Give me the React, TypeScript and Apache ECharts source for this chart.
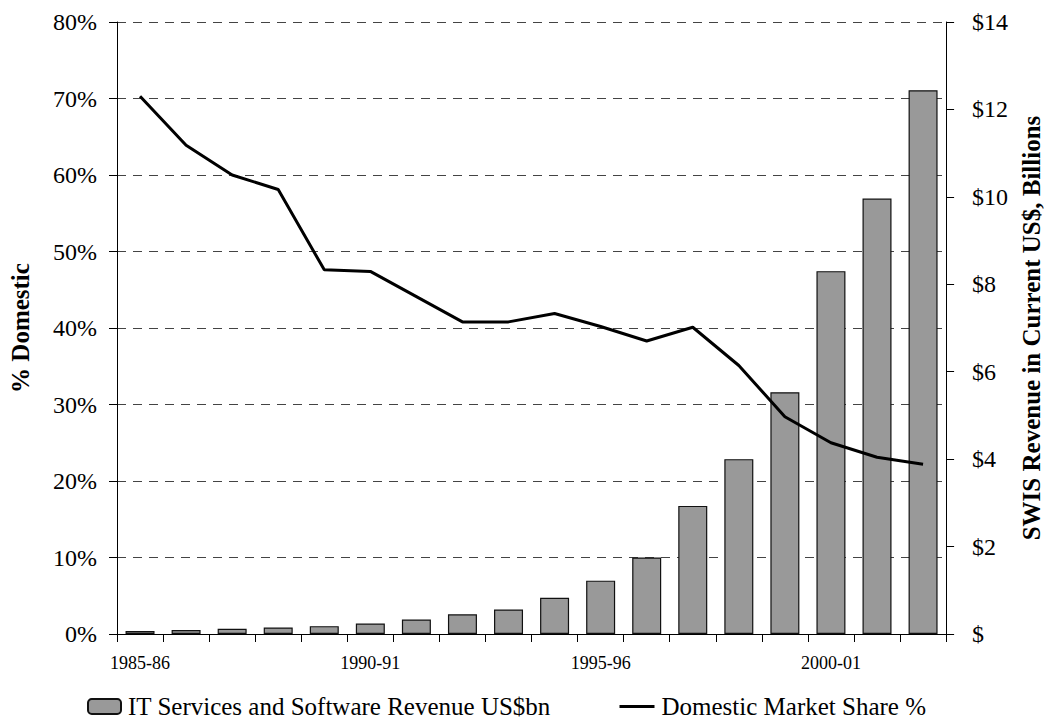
import React, { useEffect, useRef } from "react";
import * as echarts from "echarts";

const categories = [
  "1985-86", "1986-87", "1987-88", "1988-89", "1989-90", "1990-91",
  "1991-92", "1992-93", "1993-94", "1994-95", "1995-96", "1996-97",
  "1997-98", "1998-99", "1999-00", "2000-01", "2001-02", "2002-03",
];
// IT Services and Software Revenue, US$ billions (right axis)
const revenue = [
  0.07, 0.09, 0.12, 0.15, 0.18, 0.24, 0.33, 0.45, 0.56, 0.83, 1.22, 1.75,
  2.93, 4.0, 5.53, 8.3, 9.96, 12.44,
];
// Domestic market share, % (left axis)
const domesticShare = [
  70.3, 63.9, 60.0, 58.1, 47.6, 47.4, 44.1, 40.8, 40.8, 41.9, 40.2, 38.3,
  40.1, 35.1, 28.4, 25.0, 23.1, 22.2,
];
const leftTicks = { min: 0, max: 80, interval: 10 };
const rightTicks = { min: 0, max: 14, interval: 2 };

const barName = "IT Services and Software Revenue US$bn";
const lineName = "Domestic Market Share %";
const FONT = "'Liberation Serif', 'Times New Roman', serif";

export default function App() {
  const ref = useRef<HTMLDivElement>(null);
  useEffect(() => {
    if (!ref.current) return;
    const chart = echarts.init(ref.current, undefined, { renderer: "svg" });
    chart.setOption({
      animation: false,
      backgroundColor: "#ffffff",
      textStyle: { fontFamily: FONT, color: "#000" },
      grid: { left: 113, right: 97, top: 22, bottom: 86, containLabel: false },
      legend: [
        {
          data: [barName],
          left: 87,
          top: 694,
          padding: 0,
          itemWidth: 33,
          itemHeight: 15,
          itemGap: 10,
          textStyle: { fontFamily: FONT, fontSize: 25, color: "#000", padding: [0, 0, 0, 2] },
        },
        {
          data: [lineName],
          left: 618,
          top: 694,
          padding: 0,
          itemWidth: 35,
          itemHeight: 15,
          lineStyle: { width: 3 },
          itemStyle: { opacity: 0 },
          textStyle: { fontFamily: FONT, fontSize: 25, color: "#000", padding: [0, 0, 0, 2] },
        },
      ],
      xAxis: {
        type: "category",
        data: categories,
        boundaryGap: true,
        axisLine: { lineStyle: { color: "#000", width: 1 } },
        axisTick: { show: true, interval: 0, length: 8, lineStyle: { color: "#000" } },
        axisLabel: {
          interval: 4,
          margin: 20,
          fontFamily: FONT,
          fontSize: 18,
          color: "#000",
        },
        splitLine: { show: false },
      },
      yAxis: [
        {
          type: "value",
          min: leftTicks.min,
          max: leftTicks.max,
          interval: leftTicks.interval,
          name: "% Domestic",
          nameLocation: "middle",
          nameRotate: 90,
          nameGap: 84,
          nameTextStyle: { fontFamily: FONT, fontSize: 25, fontWeight: "bold", color: "#000" },
          axisLine: { show: true, lineStyle: { color: "#000", width: 1 } },
          axisTick: { show: true, length: 8, lineStyle: { color: "#000" } },
          axisLabel: {
            formatter: "{value}%",
            margin: 20,
            fontFamily: FONT,
            fontSize: 24,
            color: "#000",
          },
          splitLine: { show: true, lineStyle: { color: "#444", width: 1, type: [9, 7] } },
        },
        {
          type: "value",
          position: "right",
          min: rightTicks.min,
          max: rightTicks.max,
          interval: rightTicks.interval,
          name: "SWIS Revenue in Current US$, Billions",
          nameLocation: "middle",
          nameRotate: 90,
          nameGap: 71,
          nameTextStyle: { fontFamily: FONT, fontSize: 25, fontWeight: "bold", color: "#000" },
          axisLine: { show: true, lineStyle: { color: "#000", width: 1 } },
          axisTick: { show: true, length: 8, lineStyle: { color: "#000" } },
          axisLabel: {
            formatter: (v: number) => (v === 0 ? "$" : "$" + v),
            margin: 26,
            fontFamily: FONT,
            fontSize: 24,
            color: "#000",
          },
          splitLine: { show: false },
        },
      ],
      series: [
        {
          name: barName,
          type: "bar",
          yAxisIndex: 1,
          data: revenue,
          barWidth: 29,
          itemStyle: { color: "#999999", borderColor: "#111", borderWidth: 1.2 },
        },
        {
          name: lineName,
          type: "line",
          yAxisIndex: 0,
          data: domesticShare,
          symbol: "none",
          showSymbol: false,
          lineStyle: { color: "#000", width: 3 },
          itemStyle: { color: "#000" },
        },
      ],
    });
    return () => chart.dispose();
  }, []);
  return (
    <div
      ref={ref}
      style={{ position: "fixed", left: 0, top: 0, width: 1052, height: 720, background: "#fff" }}
    />
  );
}
